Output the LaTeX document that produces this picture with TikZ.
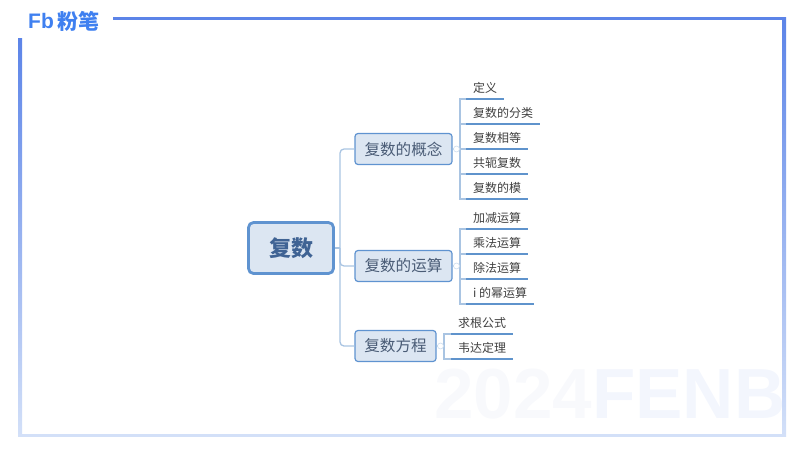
\documentclass[tikz,border=0pt]{standalone}
\usepackage{fontspec}
\setmainfont{Noto Sans CJK SC}
\newfontfamily\latinwm{Liberation Sans}
\usetikzlibrary{fadings,shadings}
\definecolor{framedark}{HTML}{5C84E8}
\definecolor{framelight}{HTML}{D3E0F8}
\definecolor{nodefill}{HTML}{DCE6F2}
\definecolor{nodeline}{HTML}{5F93D0}
\definecolor{conn}{HTML}{A9C4E2}
\definecolor{under}{HTML}{5F93CC}
\definecolor{roottext}{HTML}{3F6394}
\definecolor{nodetext}{HTML}{4A5C76}
\definecolor{leaftext}{HTML}{404040}
\definecolor{logoblue}{HTML}{3F80F0}
\definecolor{wmA}{HTML}{F8F9FC}
\definecolor{wmB}{HTML}{F3F6FD}
\tikzset{
  rootbox/.style={draw=nodeline,fill=nodefill,line width=2.8pt,rounded corners=5pt,minimum width=85pt,minimum height=51pt,inner sep=0pt,text=roottext,font=\fontsize{22}{24}\selectfont\bfseries},
  subbox/.style={draw=nodeline,fill=nodefill,line width=1.2pt,rounded corners=3pt,minimum height=31pt,inner sep=0pt,text=nodetext,font=\fontsize{15.6}{18}\selectfont},
  leaf/.style={anchor=south west,text width=#1,align=left,inner xsep=7pt,inner ysep=0pt,minimum height=21.5pt,text=leaftext,font=\fontsize{12}{14}\selectfont},
  underl/.style={draw=under,line width=1.3pt},
  connl/.style={draw=conn,line width=1.3pt,rounded corners=4pt},
  brack/.style={draw=conn,line width=1.2pt},
  wmtext/.style={anchor=west,inner sep=0pt,font=\latinwm\fontsize{71}{73}\selectfont\bfseries},
  knob/.style={circle,draw=conn!60,fill=white,line width=0.6pt,minimum size=6pt,inner sep=0pt},
}
\begin{document}
\begin{tikzpicture}[x=1pt,y=-1pt]
\useasboundingbox (0,0) rectangle (800,450);
% watermark
\begin{scope}
\clip (430,355) rectangle (783,425);
\node[wmtext,text=wmA] (wmyear) at (434,394) {2024};
\node[wmtext,text=wmB] (wmname) at (592,394) {FENBI};
\end{scope}
% frame
\shade[top color=framedark,bottom color=framelight] (18,38) rectangle (22,436);
\shade[top color=framedark,bottom color=framelight] (782.5,17) rectangle (786,436);
\fill[framedark] (113,16.5) rectangle (786,20);
\fill[framelight] (18,433.5) rectangle (786,437);
% logo
\node[anchor=west,inner sep=0pt,text=logoblue,font=\latinwm\fontsize{21}{22}\selectfont\bfseries] (fb) at (28,21) {Fb};
\node[anchor=west,inner sep=0pt,text=logoblue,font=\fontsize{21}{22}\selectfont\bfseries] (logo) at (57,21) {粉笔};
% main nodes
\node[rootbox] (root) at (291,248) {\raisebox{-1pt}{复数}};
\node[subbox,minimum width=97pt] (s1) at (403.5,149) {复数的概念};
\node[subbox,minimum width=97pt] (s2) at (403.5,266) {复数的运算};
\node[subbox,minimum width=81pt] (s3) at (395.5,346) {复数方程};
% leaves
\node[leaf=24pt] (a1) at (466,99) {定义};
\node[leaf=60pt] (a2) at (466,124) {复数的分类};
\node[leaf=48pt] (a3) at (466,149) {复数相等};
\node[leaf=48pt] (a4) at (466,174) {共轭复数};
\node[leaf=48pt] (a5) at (466,199) {复数的模};
\node[leaf=48pt] (b1) at (466,229) {加减运算};
\node[leaf=48pt] (b2) at (466,254) {乘法运算};
\node[leaf=48pt] (b3) at (466,279) {除法运算};
\node[leaf=55pt,text width=] (b4) at (466,304) {\mbox{i 的幂运算}};
\node[leaf=48pt] (c1) at (451,334) {求根公式};
\node[leaf=48pt] (c2) at (451,359) {韦达定理};
% trunk
\coordinate (t) at (340,248);
\draw[brack] (root.east) -- (t);
\draw[connl] (s1.west) -| (t);
\draw[connl] (s3.west) -| (t);
\draw[connl] (s2.west) -| (t);
% brackets
\coordinate (ja) at (460,149);
\coordinate (jb) at (460,266);
\coordinate (jc) at (444,346);
\draw[brack] (s1.east) -- (ja);
\draw[brack] (s2.east) -- (jb);
\draw[brack] (s3.east) -- (jc);
\foreach \n in {a1,a2,a3,a4,a5} \draw[brack] (ja) |- (\n.south west);
\foreach \n in {b1,b2,b3,b4} \draw[brack] (jb) |- (\n.south west);
\foreach \n in {c1,c2} \draw[brack] (jc) |- (\n.south west);
\foreach \n in {a1,a2,a3,a4,a5,b1,b2,b3,b4,c1,c2} \draw[underl] (\n.south west) -- (\n.south east);
\node[knob] (k1) at (456.5,149) {};
\node[knob] (k2) at (456.5,266) {};
\node[knob] (k3) at (440.5,346) {};
\end{tikzpicture}
\end{document}
